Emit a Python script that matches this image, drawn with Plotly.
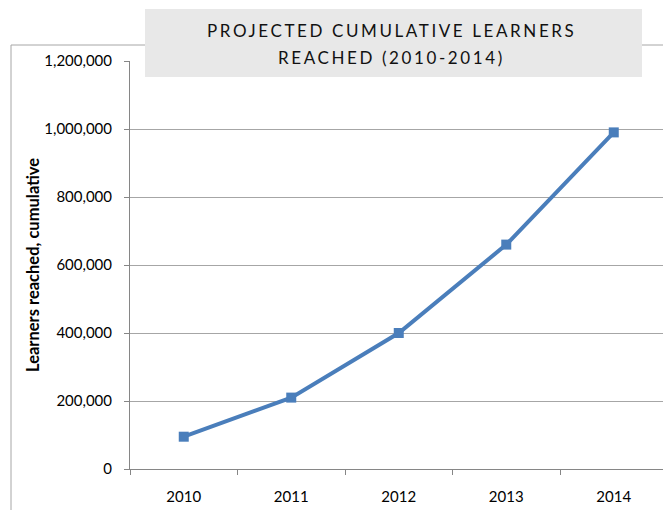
import plotly.graph_objects as go

# Projected cumulative learners reached, by year
years = ["2010", "2011", "2012", "2013", "2014"]
learners = [95000, 210000, 400000, 660000, 990000]

y_ticks = [0, 200000, 400000, 600000, 800000, 1000000, 1200000]
y_tick_text = ["0", "200,000", "400,000", "600,000", "800,000", "1,000,000", "1,200,000"]

title_lines = ["PROJECTED CUMULATIVE LEARNERS", "REACHED (2010-2014)"]
y_title = "Learners reached, cumulative"

W, H = 663, 510
ML, MT, MB = 130, 61, 41
PW, PH = W - ML, H - MT - MB


def px(x):
    return (x - ML) / PW


def py(y):
    return (H - MB - y) / PH


FONT = "Lato, 'Open Sans', sans-serif"
BLUE = "#4a7ebb"
GRID = "#a6a6a6"
AXIS = "#868686"

fig = go.Figure()
fig.add_trace(go.Scatter(
    x=years, y=learners, mode="lines+markers",
    line=dict(color=BLUE, width=4),
    marker=dict(symbol="square", size=10, color=BLUE),
    showlegend=False, hoverinfo="x+y", cliponaxis=False,
))

fig.update_layout(
    width=W, height=H,
    margin=dict(l=ML, r=0, t=MT, b=MB, pad=0),
    paper_bgcolor="white", plot_bgcolor="white",
    font=dict(family=FONT, size=15, color="#000000"),
    xaxis=dict(
        type="category", range=[-0.5, 4.458],
        tickson="boundaries", ticks="outside", ticklen=5, tickcolor=AXIS,
        showline=True, linecolor=AXIS, linewidth=1,
        showgrid=False, zeroline=False,
        tickfont=dict(size=15), ticklabelstandoff=14,
    ),
    yaxis=dict(
        range=[0, 1200000], tickvals=y_ticks, ticktext=y_tick_text,
        ticks="outside", ticklen=5, tickcolor=AXIS,
        showline=True, linecolor=AXIS, linewidth=1,
        showgrid=True, gridcolor=GRID, gridwidth=1,
        zeroline=False, tickfont=dict(size=15), ticklabelstandoff=9,
    ),
)

# outer chart frame (top and left edges visible)
fig.add_shape(type="line", xref="paper", yref="paper",
              x0=px(11), x1=px(680), y0=py(45), y1=py(45),
              line=dict(color=GRID, width=1), layer="below")
fig.add_shape(type="line", xref="paper", yref="paper",
              x0=px(11), x1=px(11), y0=py(45), y1=py(530),
              line=dict(color=GRID, width=1), layer="below")

# title box
fig.add_shape(type="rect", xref="paper", yref="paper",
              x0=px(145), x1=px(642), y0=py(77), y1=py(9),
              fillcolor="#e8e8e8", line=dict(width=0), layer="above")

# two-line title, one annotation per line
for text, ypix in zip(title_lines, [30, 57]):
    fig.add_annotation(
        xref="paper", yref="paper", x=px(391), y=py(ypix),
        xanchor="center", yanchor="middle", showarrow=False,
        text='<span style="letter-spacing:2.6px">%s</span>' % text,
        font=dict(family=FONT, size=17, color="#111111"),
    )

fig.add_annotation(
    xref="paper", yref="paper", x=px(33), y=0.5,
    xanchor="center", yanchor="middle", showarrow=False, textangle=-90,
    text="<b>%s</b>" % y_title,
    font=dict(family=FONT, size=16.5, color="#000000"),
)

fig.write_html("out.html")
